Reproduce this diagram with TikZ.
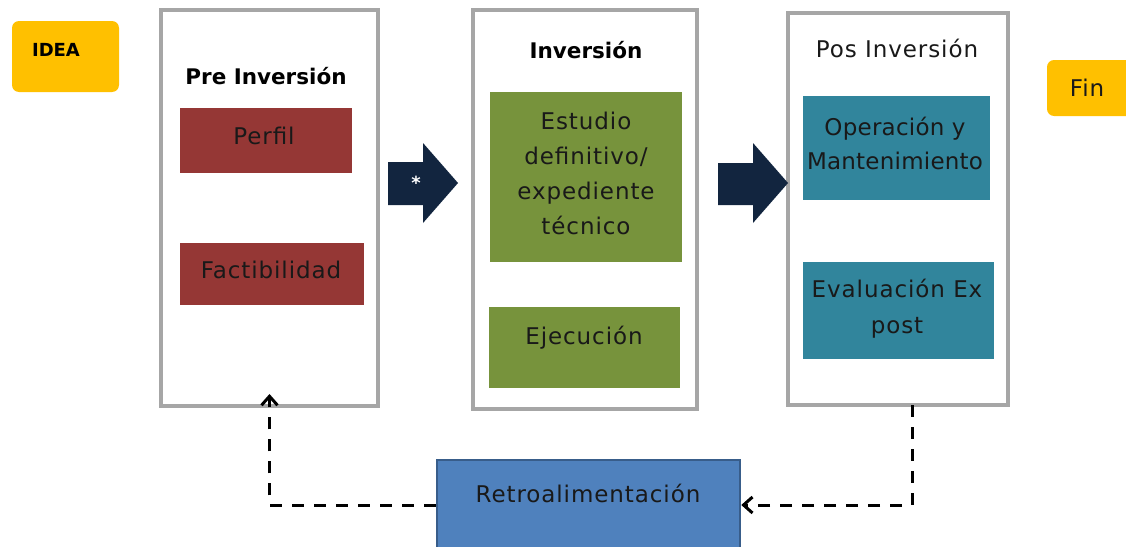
\documentclass[tikz,border=0pt]{standalone}
\usepackage{fontspec}
\setmainfont{DejaVu Sans}
\usetikzlibrary{arrows.meta}
\definecolor{ygold}{HTML}{FFC000}
\definecolor{boxgray}{HTML}{A6A6A6}
\definecolor{redb}{HTML}{953735}
\definecolor{greenb}{HTML}{77933C}
\definecolor{tealb}{HTML}{31859C}
\definecolor{blueb}{HTML}{4F81BD}
\definecolor{bluebd}{HTML}{385D8A}
\definecolor{navy}{HTML}{12253F}
\newcommand{\rtfs}[2]{\fontsize{23}{#2}\selectfont\addfontfeature{LetterSpace=#1}}
\newcommand{\rtf}[1]{\rtfs{4}{#1}}
\tikzset{
  phase/.style={draw=boxgray, line width=3.5pt, fill=white},
  yel/.style={fill=ygold, rounded corners=7pt},
  txt/.style={font=\rtf{27}, text=black!90, align=center, inner sep=0pt},
  btxt/.style={font=\fontsize{21.5}{26}\selectfont\bfseries, text=black, inner sep=0pt},
  fb/.style={line width=3pt, dash pattern=on 12pt off 10pt, -{Straight Barb[length=9pt,width=16pt,line width=3pt]}},
  bigarrow/.style={fill=navy}
}
\begin{document}
\begin{tikzpicture}[x=1pt,y=-1pt]
\useasboundingbox (0,0) rectangle (1126,546);
% start / end
\fill[yel] (12,21) rectangle (119,92);
\node[font=\fontsize{18}{20}\selectfont\bfseries, inner sep=0pt] (idea) at (56,50) {IDEA};
\fill[yel] (1047,60) rectangle (1140,116);
\node[txt] (fin) at (1087,88) {Fin};
% phase boxes
\draw[phase] (161,10) rectangle (378,406);
\coordinate (pres) at (269.5,406);
\node[btxt] (pret) at (266,76) {Pre Inversión};
\fill[redb] (180,108) rectangle (352,173);
\node[txt] (perfil) at (264,136) {Perfil};
\fill[redb] (180,243) rectangle (364,305);
\node[txt] (fact) at (271,270) {Factibilidad};

\draw[phase] (473,10) rectangle (697,409);
\node[btxt] (invt) at (586,50) {Inversión};
\fill[greenb] (490,92) rectangle (682,262);
\node[txt, text width=190pt, font=\rtf{35}] (est) at (586,173) {Estudio\\definitivo/\\expediente\\técnico};
\fill[greenb] (489,307) rectangle (680,388);
\node[txt] (ejec) at (584,338) {Ejecución};

\draw[phase] (788,13) rectangle (1008,405);
\node[txt] (post) at (897,48) {Pos Inversión};
\fill[tealb] (803,96) rectangle (990,200);
\node[txt, font={\rtfs{1}{34}}] (oper) at (895,143) {Operación y\\Mantenimiento};
\fill[tealb] (803,262) rectangle (994,359);
\node[txt, font=\rtf{36}] (eval) at (897,309) {Evaluación Ex\\post};
\coordinate (poss) at (912,405);

% big arrows
\fill[bigarrow] (388,162) -- (423,162) -- (423,143) -- (458,183) -- (423,223) -- (423,205) -- (388,205) -- cycle;
\node[text=white, font=\fontsize{18}{20}\selectfont\bfseries, inner sep=0pt] (star) at (416,183) {*};
\fill[bigarrow] (718,163) -- (753,163) -- (753,143) -- (788,183) -- (753,223) -- (753,205) -- (718,205) -- cycle;

% feedback
\node[draw=bluebd, line width=2.5pt, fill=blueb, minimum width=303pt, minimum height=90pt, inner sep=0pt] (retro) at (588.5,505) {};
\node[txt] (retrot) at (588,493) {Retroalimentación};
\draw[fb] (poss) |- (retro.east);
\draw[fb, shorten >=-12pt] (retro.west) -| (pres);
\end{tikzpicture}
\end{document}
